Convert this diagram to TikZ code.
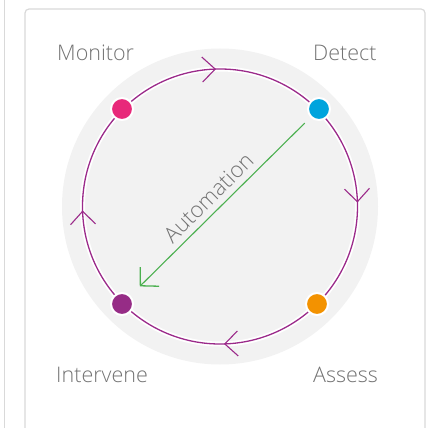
\documentclass[tikz,border=0pt]{standalone}
\usepackage{fontspec}
\setmainfont{Open Sans Light}
\usetikzlibrary{arrows.meta,calc}
\definecolor{frame}{HTML}{D9D9D9}
\definecolor{disc}{HTML}{F2F2F2}
\definecolor{ring}{HTML}{9B2A8A}
\definecolor{cpink}{HTML}{E8297A}
\definecolor{cblue}{HTML}{00A4DD}
\definecolor{corange}{HTML}{F39200}
\definecolor{cpurple}{HTML}{962C86}
\definecolor{cgreen}{HTML}{4CB050}
\definecolor{ctext}{HTML}{737373}
\tikzset{
  dot/.style={circle, draw=white, line width=2pt, minimum size=22pt, inner sep=0pt},
  lbl/.style={text=ctext, font=\fontsize{21.5}{25}\selectfont, inner sep=0pt, anchor=base west},
  chev/.style={draw=ring, line width=1.1pt},
}
\begin{document}
\begin{tikzpicture}[x=1pt,y=1pt]
\useasboundingbox (0,-428) rectangle (431,0);
% frame
\draw[frame, line width=1.2pt] (4.5,0) -- (4.5,-428);
\draw[frame, line width=1.2pt, rounded corners=4pt] (25,-440) -- (25,-9) -- (425,-9) -- (425,-440);
% disc
\coordinate (C) at (220,-206.5);
\fill[disc] (C) circle[radius=158];
% ring
\draw[white, line width=5pt] (C) circle[radius=137.5];
\draw[ring, line width=1.3pt] (C) circle[radius=137.5];
% chevrons (clockwise)
\foreach \a in {92,2,-88,182}{
  \draw[chev, shift={($(C)+(\a:137.5)$)}, rotate=\a-90] (-13,12.5) -- (0,0) -- (-13,-12.5);
}
% dots
\node[dot, fill=cpink]   (mon) at (122,-109) {};
\node[dot, fill=cblue]   (det) at (319,-109) {};
\node[dot, fill=corange] (ass) at (317,-304) {};
\node[dot, fill=cpurple] (int) at (122,-304) {};
% automation arrow
\draw[cgreen, line width=1.1pt, -{Straight Barb[length=13pt,width=27pt,line width=1.3pt]}, shorten <=8pt, shorten >=13pt] (det) -- (int)
  node[pos=0.51, sloped, above=6pt, text=ctext, font=\fontsize{22}{26}\selectfont, inner sep=0pt] (auto) {Automation};
% labels
\node[lbl] (lmon) at (57,-60) {Monitor};
\node[lbl] (ldet) at (313,-60) {Detect};
\node[lbl] (lint) at (56,-382) {Intervene};
\node[lbl] (lass) at (313,-382) {Assess};
\end{tikzpicture}
\end{document}
